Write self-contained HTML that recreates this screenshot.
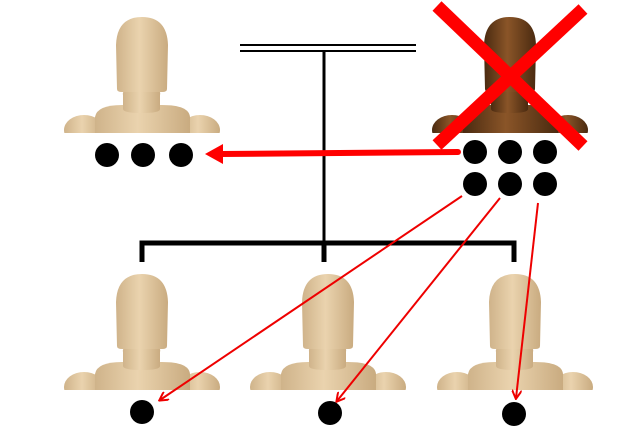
<!DOCTYPE html>
<html><head><meta charset="utf-8"><style>
html,body{margin:0;padding:0;background:#fff;width:640px;height:426px;overflow:hidden}
</style></head><body>
<svg width="640" height="426" viewBox="0 0 640 426" xmlns="http://www.w3.org/2000/svg">
<defs>
<linearGradient id="w" x1="0" x2="1" y1="0" y2="0">
<stop offset="0" stop-color="#cfb38a"/><stop offset="0.45" stop-color="#ead3ae"/><stop offset="1" stop-color="#c9ab80"/>
</linearGradient>
<linearGradient id="d" x1="0" x2="1" y1="0" y2="0">
<stop offset="0" stop-color="#4a2a10"/><stop offset="0.45" stop-color="#8a5528"/><stop offset="1" stop-color="#4a2a10"/>
</linearGradient>
<g id="m">
<ellipse cx="-58" cy="113" rx="20" ry="15"/>
<ellipse cx="58" cy="113" rx="20" ry="15"/>
<path d="M-47,116 L-47,100 Q-45,88 -20,88 L20,88 Q47,88 48,100 L48,116 Z"/>
<path d="M-19,78 Q-20,74 -15,73 L15,73 Q19,74 18,78 L18,92 Q18,96 0,96 Q-19,96 -19,92 Z"/>
<path d="M-25,72 L-26,28 Q-25,0 0,0 Q25,0 26,28 L25,72 Q25,75 20,75 L-20,75 Q-25,75 -25,72 Z"/>
</g>
<clipPath id="c"><rect x="-90" y="-5" width="180" height="121"/></clipPath>
<marker id="ah" markerWidth="10" markerHeight="10" refX="8" refY="5" orient="auto" markerUnits="userSpaceOnUse">
<path d="M0,0 L9,5 L0,10" fill="none" stroke="#e00" stroke-width="2"/>
</marker>
</defs>
<g fill="url(#w)" clip-path="url(#c)" transform="translate(142,17)"><use href="#m"/></g>
<g fill="url(#w)" clip-path="url(#c)" transform="translate(142,274)"><use href="#m"/></g>
<g fill="url(#w)" clip-path="url(#c)" transform="translate(328,274)"><use href="#m"/></g>
<g fill="url(#w)" clip-path="url(#c)" transform="translate(515,274)"><use href="#m"/></g>
<g fill="url(#d)" clip-path="url(#c)" transform="translate(510,17)"><use href="#m"/></g>
<!-- red X -->
<line x1="437" y1="6" x2="583" y2="146" stroke="#f00" stroke-width="13"/>
<line x1="583" y1="9" x2="437" y2="145" stroke="#f00" stroke-width="13"/>
<!-- tree -->
<line x1="240" y1="45" x2="416" y2="45" stroke="#000" stroke-width="2"/>
<line x1="240" y1="51" x2="416" y2="51" stroke="#000" stroke-width="2"/>
<line x1="324" y1="51" x2="324" y2="262" stroke="#000" stroke-width="3"/>
<path d="M142,262 L142,243 L514,243 L514,262 M324,243 L324,262" fill="none" stroke="#000" stroke-width="5"/>
<!-- dots -->
<g fill="#000">
<circle cx="107" cy="155" r="12"/><circle cx="143" cy="155" r="12"/><circle cx="181" cy="155" r="12"/>
<circle cx="475" cy="152" r="12"/><circle cx="510" cy="152" r="12"/><circle cx="545" cy="152" r="12"/>
<circle cx="475" cy="184" r="12"/><circle cx="510" cy="184" r="12"/><circle cx="545" cy="184" r="12"/>
<circle cx="142" cy="412" r="12"/><circle cx="330" cy="413" r="12"/><circle cx="514" cy="414" r="12"/>
</g>
<!-- thick arrow -->
<line x1="458" y1="152" x2="220" y2="154" stroke="#f00" stroke-width="6" stroke-linecap="round"/>
<path d="M205,154 L223,144 L223,164 Z" fill="#f00"/>
<!-- thin arrows -->
<line x1="462" y1="196" x2="160" y2="400" stroke="#e00" stroke-width="2" marker-end="url(#ah)"/>
<line x1="500" y1="198" x2="337" y2="401" stroke="#e00" stroke-width="2" marker-end="url(#ah)"/>
<line x1="538" y1="203" x2="516" y2="398" stroke="#e00" stroke-width="2" marker-end="url(#ah)"/>
</svg>
</body></html>
